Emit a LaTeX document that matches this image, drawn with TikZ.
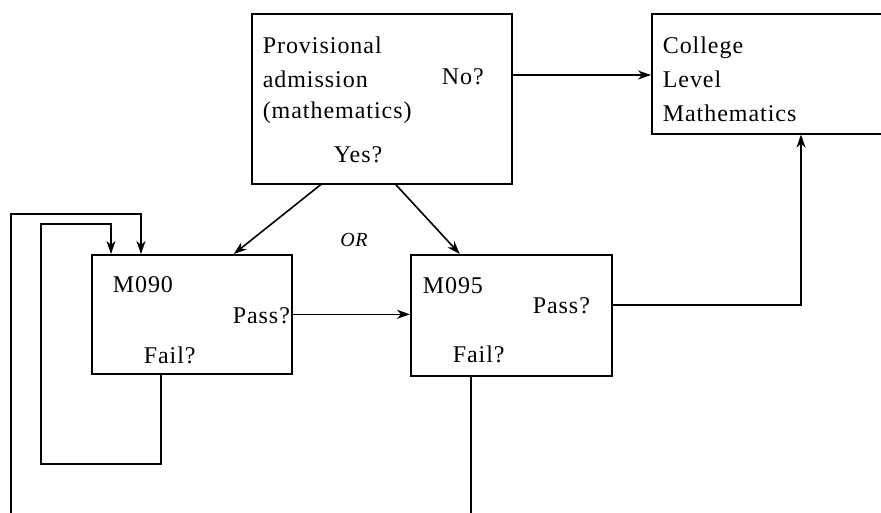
\documentclass[tikz,border=0pt]{standalone}
\usepackage{fontspec}
\setmainfont{Liberation Serif}[LetterSpace=4]
\usetikzlibrary{arrows.meta}
\begin{document}
\begin{tikzpicture}[x=1pt,y=-1pt,line width=1.6pt,
  box/.style={draw,rectangle,inner sep=0pt,anchor=north west},
  lbl/.style={anchor=base west,inner sep=0pt,font=\fontsize{24}{28}\selectfont},
  arr/.style={-{Stealth[length=13pt,width=9pt,inset=4pt]}}]
\clip (0,0) rectangle (881,512);
% boxes
\node[box,minimum width=260pt,minimum height=170pt] (prov) at (251,13) {};
\node[box,minimum width=270pt,minimum height=120pt] (coll) at (651,13) {};
\node[box,minimum width=200pt,minimum height=119pt] (m090) at (91,254) {};
\node[box,minimum width=201pt,minimum height=121pt] (m095) at (410,254) {};
% texts
\node[lbl] (t1) at (262,53) {Provisional};
\node[lbl] (t2) at (262,87) {admission};
\node[lbl] (t3) at (262,118) {(mathematics)};
\node[lbl] (yes) at (333,162) {Yes?};
\node[lbl] (no) at (441,84) {No?};
\node[lbl] (c1) at (662,53) {College};
\node[lbl] (c2) at (662,87) {Level};
\node[lbl] (c3) at (662,121) {Mathematics};
\node[lbl] (m90) at (112,292) {M090};
\node[lbl] (p90) at (232,323) {Pass?};
\node[lbl] (f90) at (143,363) {Fail?};
\node[lbl] (m95) at (422,293) {M095};
\node[lbl] (p95) at (532,313) {Pass?};
\node[lbl] (f95) at (452,362) {Fail?};
\node[inner sep=0pt,font=\fontsize{20}{22}\selectfont\itshape] (or) at (354,240) {OR};
% coordinates
\coordinate (noy) at (0,75);
\coordinate (il1) at (41,464);
\coordinate (il2) at (111,224);
\coordinate (ol0) at (11,520);
\coordinate (ol1) at (141,214);
\coordinate (fo) at (471,520);
% connectors
\draw[arr] (prov.east |- noy) -- (coll.west |- noy);
\draw[arr] ([xshift=-61pt]prov.south) -- ([xshift=42pt]m090.north);
\draw[arr] ([xshift=14pt]prov.south) -- ([xshift=-51.5pt]m095.north);
\draw[arr] (m090.east) -- (m095.west |- m090.east);
\draw[arr] ([yshift=10.5pt]m095.east) -| ([xshift=150pt]coll.south west);
\draw[arr] ([xshift=70pt]m090.south west) |- (il1) |- (il2) -- (il2 |- m090.north);
\draw[arr] (ol0) |- (ol1) -- (ol1 |- m090.north);
\draw ([xshift=61pt]m095.south west) -- ([xshift=61pt]m095.south west |- fo);
\end{tikzpicture}
\end{document}
